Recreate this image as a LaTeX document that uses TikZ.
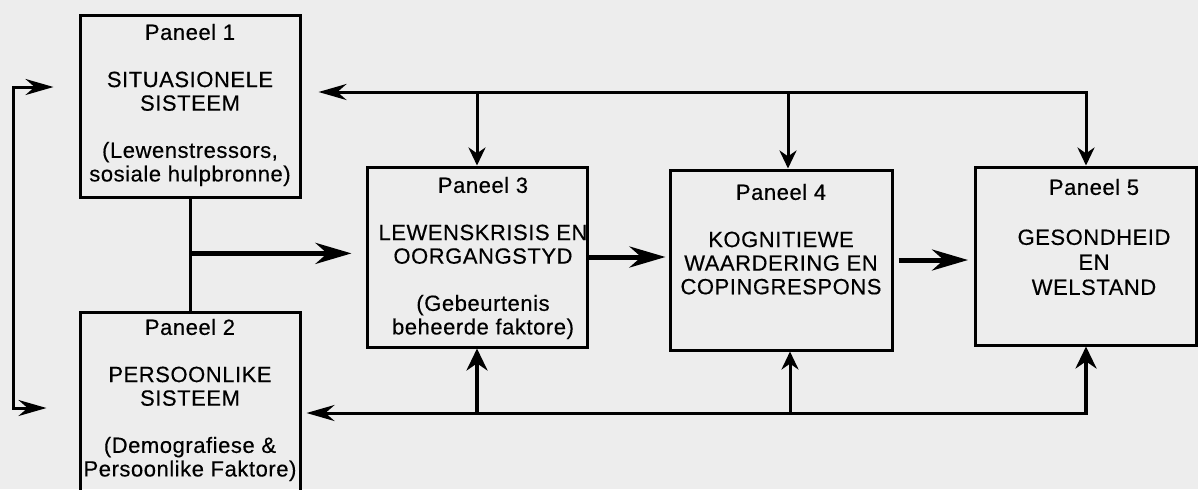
\documentclass[tikz,border=0pt]{standalone}
\usepackage{fontspec}
\setmainfont{Liberation Sans}[LetterSpace=2.5, FakeBold=0.4]
\usetikzlibrary{arrows.meta,positioning}
\definecolor{paper}{gray}{0.93}
\newcommand{\panelfont}{\fontsize{11}{11.8}\selectfont}
\tikzset{
  panel/.style={draw, line width=1.5pt, minimum width=110pt, minimum height=90pt},
  paneltext/.style={align=center, inner sep=0pt, font=\panelfont},
  bus/.style={line width=1.5pt, {Stealth[length=14pt,width=8pt]}-{Stealth[length=9pt,width=8.5pt]}},
  feed/.style={line width=1.5pt, -{Stealth[length=9pt,width=8.5pt]}},
  flow/.style={line width=2.5pt, -{Stealth[length=18pt,width=10.5pt]}},
  rise/.style={line width=2.2pt, -{Stealth[length=11pt,width=10.5pt]}},
}
\begin{document}
\begin{tikzpicture}[x=0.5pt,y=-0.5pt]
  \path[use as bounding box, fill=paper] (0,0) rectangle (1198,489);
  \clip (0,0) rectangle (1198,489);
  % panels
  \node[panel, minimum height=91pt] (p1) at (190,106) {};
  \node[panel, minimum height=94pt] (p2) at (190,406) {};
  \node[panel] (p3) at (477,257) {};
  \node[panel, minimum width=111pt] (p4) at (781,260) {};
  \node[panel, minimum width=110.5pt, minimum height=89pt] (p5) at (1086,256) {};
  \node[paneltext, below=5pt of p1.north] (t1) {Paneel 1\\[11.8pt] SITUASIONELE\\ SISTEEM\\[11.8pt] (Lewenstressors,\\ sosiale hulpbronne)};
  \node[paneltext, below=4pt of p2.north] (t2) {Paneel 2\\[11.8pt] PERSOONLIKE\\ SISTEEM\\[11.8pt] (Demografiese \&\\ Persoonlike Faktore)};
  \node[paneltext, below=5.5pt of p3.north, xshift=3pt] (t3) {Paneel 3\\[11.8pt] LEWENSKRISIS EN\\ OORGANGSTYD\\[11.8pt] (Gebeurtenis\\ beheerde faktore)};
  \node[paneltext, below=7.5pt of p4.north] (t4) {Paneel 4\\[11.8pt] KOGNITIEWE\\ WAARDERING EN\\ COPINGRESPONS};
  \node[paneltext, below=6.5pt of p5.north, xshift=4pt, font=\fontsize{11}{12.5}\selectfont] (t5) {Paneel 5\\[12.5pt] GESONDHEID\\ EN\\ WELSTAND};
  % feedback lines
  \coordinate (topbus) at (1086,92);
  \coordinate (botbus) at (1086,413);
  \coordinate (loopa) at (13,87);
  \coordinate (loopb) at (13,408);
  \draw[bus] ([xshift=8.5pt]p1.east |- topbus) -- (topbus) -- (p5.north);
  \draw[feed] (p3.north |- topbus) -- (p3.north);
  \draw[feed] ([xshift=3.5pt]p4.north |- topbus) -- ([xshift=3.5pt]p4.north);
  \draw[line width=1.5pt, -{Stealth[length=14pt,width=8pt]}] (botbus) -- ([xshift=2.5pt]p2.east |- botbus);
  \draw[rise] ([yshift=-0.75pt]botbus) -- (p5.south);
  \draw[rise] (p3.south |- botbus) -- (p3.south);
  \draw[feed] ([xshift=4.5pt]p4.south |- botbus) -- ([xshift=4.5pt]p4.south);
  \draw[line width=1.5pt, {Stealth[length=14pt,width=8pt]}-{Stealth[length=14pt,width=8pt]}]
    ([xshift=-12.5pt]p1.west |- loopa) -- (loopa) -- (loopb) -- ([xshift=-16pt]p2.west |- loopb);
  % main flow
  \draw[line width=1.5pt] (p1.south) -- coordinate[pos=0.49] (fork) (p2.north);
  \draw[flow, shorten >=7pt] (fork) -- (fork -| p3.west);
  \draw[flow, shorten >=1.5pt] (p3.east) -- (p3.east -| p4.west);
  \draw[flow, shorten >=3pt] ([xshift=2.5pt]p4.east) -- (p4.east -| p5.west);
\end{tikzpicture}
\end{document}
